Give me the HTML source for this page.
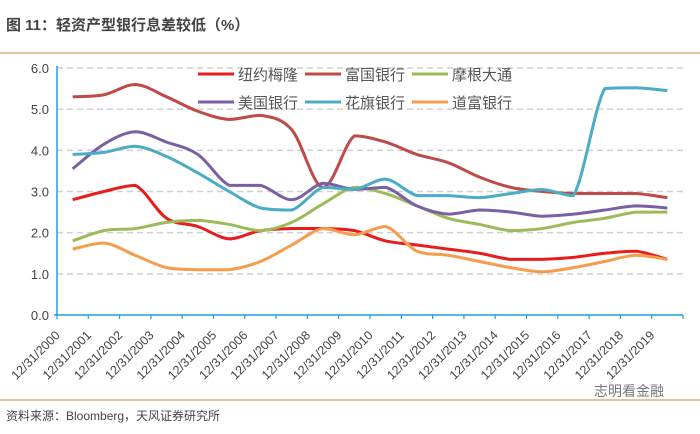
<!DOCTYPE html>
<html><head><meta charset="utf-8"><style>
body{margin:0;width:700px;height:429px;background:#fff;overflow:hidden;font-family:"Liberation Sans","Noto Sans CJK SC",sans-serif;}
</style></head><body>
<svg width="700" height="429" xmlns="http://www.w3.org/2000/svg">
<text x="6" y="30" font-size="15" font-weight="bold" fill="#444">图 11：轻资产型银行息差较低（%）</text>
<line x1="0" y1="53" x2="700" y2="53" stroke="#d9b37a" stroke-width="1.5"/>
<line x1="0" y1="400" x2="700" y2="400" stroke="#d9b37a" stroke-width="1.5"/>
<text x="6" y="420" font-size="12" fill="#444">资料来源：Bloomberg，天风证券研究所</text>
<text x="594" y="396" font-size="14" fill="#777">志明看金融</text>
<g id="plot"></g>
</svg>
<script>
const categories=["12/31/2000","12/31/2001","12/31/2002","12/31/2003","12/31/2004","12/31/2005","12/31/2006","12/31/2007","12/31/2008","12/31/2009","12/31/2010","12/31/2011","12/31/2012","12/31/2013","12/31/2014","12/31/2015","12/31/2016","12/31/2017","12/31/2018","12/31/2019"];
const yTicks=[0,1,2,3,4,5,6];
const seriesNames=["纽约梅隆","富国银行","摩根大通","美国银行","花旗银行","道富银行"];
const nyMellon=[2.8,3.0,3.15,2.35,2.15,1.85,2.05,2.1,2.1,2.05,1.8,1.7,1.6,1.5,1.35,1.35,1.4,1.5,1.55,1.35];
const wellsFargo=[5.3,5.35,5.6,5.3,4.95,4.75,4.85,4.5,3.1,4.35,4.2,3.9,3.7,3.35,3.1,3.0,2.95,2.95,2.95,2.85];
const jpMorgan=[1.8,2.05,2.1,2.25,2.3,2.2,2.05,2.25,2.7,3.1,2.95,2.65,2.35,2.2,2.05,2.1,2.25,2.35,2.5,2.5];
const bofa=[3.55,4.15,4.45,4.2,3.9,3.15,3.15,2.8,3.2,3.05,3.1,2.65,2.45,2.55,2.5,2.4,2.45,2.55,2.65,2.6];
const citi=[3.9,3.95,4.1,3.85,3.45,3.0,2.6,2.55,3.1,3.05,3.3,2.9,2.9,2.85,2.95,3.05,2.9,5.5,5.52,5.45];
const stateStreet=[1.6,1.75,1.45,1.15,1.1,1.1,1.3,1.7,2.1,1.95,2.15,1.55,1.45,1.3,1.15,1.05,1.15,1.3,1.45,1.35];
const seriesData=[nyMellon,wellsFargo,jpMorgan,bofa,citi,stateStreet];
const colors=["#e81c1c","#bf4b48","#9bbb59","#7b5fa3","#4bacc6","#f59d4f"];
const NS="http://www.w3.org/2000/svg";
const g=document.getElementById('plot');
const x0=57,x1=683,yb=315,yt=68,vmax=6;
const step=(x1-x0)/categories.length;
const X=i=>x0+step*(i+0.5);
const Y=v=>yb-(yb-yt)*v/vmax;
function mk(t,a){const e=document.createElementNS(NS,t);for(const k in a)e.setAttribute(k,a[k]);g.appendChild(e);return e;}
yTicks.forEach(v=>{
 if(v>0){const l=mk('line',{x1:x0,x2:x1,y1:Y(v),y2:Y(v),stroke:'#d0d0d0','stroke-width':1.5,'stroke-dasharray':'6,4'});
 
 }
 const t=mk('text',{x:x0-8,y:Y(v)+5,'text-anchor':'end','font-size':13,fill:'#444'});t.textContent=v.toFixed(1);
 
 
});
const ya=mk('line',{x1:x0,x2:x0,y1:yt-2,y2:yb,stroke:'#1aa1dc','stroke-width':1.5});


const xa=mk('line',{x1:x0-3,x2:x1,y1:yb,y2:yb,stroke:'#1aa1dc','stroke-width':1.5});


for(let i=0;i<=categories.length;i++){mk('line',{x1:x0+step*i,x2:x0+step*i,y1:yb,y2:yb+4,stroke:'#1aa1dc','stroke-width':1.2});}
categories.forEach((c,i)=>{
 const x=X(i)-12,y=yb+21;
 const t=mk('text',{x:x,y:y,'text-anchor':'end','font-size':12.5,fill:'#444',transform:`rotate(-45 ${x} ${y})`});t.textContent=c;
 
 
});
function clamp(v,a,b){const lo=Math.min(a,b),hi=Math.max(a,b);return Math.max(lo,Math.min(hi,v));}
function path(arr){
 const p=arr.map((v,i)=>[X(i),Y(v)]);let d=`M${p[0][0]},${p[0][1]}`;
 for(let i=0;i<p.length-1;i++){const a=p[i-1]||p[i],b=p[i],c=p[i+1],e=p[i+2]||c;const t=6;
  const c1y=clamp(b[1]+(c[1]-a[1])/t,b[1],c[1]),c2y=clamp(c[1]-(e[1]-b[1])/t,b[1],c[1]);
  d+=` C${b[0]+(c[0]-a[0])/t},${c1y} ${c[0]-(e[0]-b[0])/t},${c2y} ${c[0]},${c[1]}`;}
 return d;}
seriesData.forEach((arr,k)=>{
 const l=mk('path',{d:path(arr),fill:'none',stroke:colors[k],'stroke-width':3});
 
 
});
const lx=[198,305,412],ly=[74,102];
seriesNames.forEach((n,k)=>{
 const x=lx[k%3],y=ly[Math.floor(k/3)];
 const gg=mk('g',{});
 
 
 const r=document.createElementNS(NS,'rect');r.setAttribute('x',x);r.setAttribute('y',y-1.5);r.setAttribute('width',36);r.setAttribute('height',3);r.setAttribute('fill',colors[k]);gg.appendChild(r);
 const t=document.createElementNS(NS,'text');t.setAttribute('x',x+40);t.setAttribute('y',y+6);t.setAttribute('font-size',15);t.setAttribute('fill','#555');t.textContent=n;gg.appendChild(t);
});
</script>
</body></html>
